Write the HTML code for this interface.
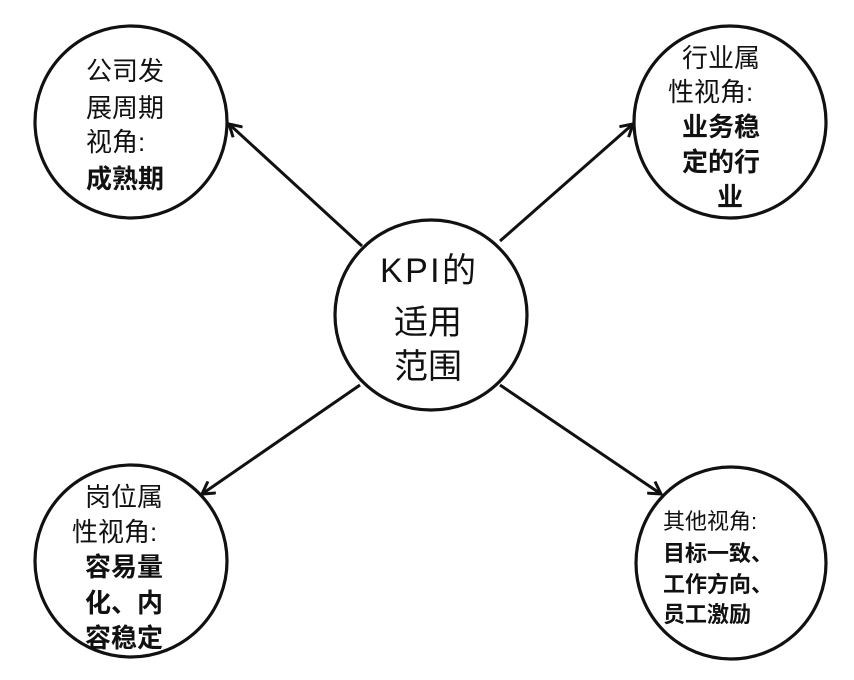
<!DOCTYPE html>
<html><head><meta charset="utf-8"><style>
html,body{margin:0;padding:0;background:#fff;}
svg{display:block;}
text{font-family:"Liberation Sans","Noto Sans CJK SC",sans-serif;fill:#111;}
.b{font-weight:bold;}
</style></head><body>
<svg width="854" height="680" viewBox="0 0 854 680" xmlns="http://www.w3.org/2000/svg">
<defs><marker id="a" markerWidth="16" markerHeight="16" refX="13" refY="8" orient="auto" markerUnits="userSpaceOnUse">
<path d="M1,1 L13,8 L1,15" fill="none" stroke="#111" stroke-width="3"/></marker></defs>
<g fill="none" stroke="#111" stroke-width="3.2">
<ellipse cx="131" cy="122" rx="96" ry="96"/>
<ellipse cx="730" cy="122" rx="96" ry="96"/>
<ellipse cx="431" cy="315" rx="96" ry="95"/>
<ellipse cx="131" cy="561" rx="96" ry="96"/>
<ellipse cx="731" cy="563" rx="95" ry="96"/>
</g>
<g stroke="#111" stroke-width="3" marker-end="url(#a)">
<line x1="362" y1="246" x2="229" y2="124"/>
<line x1="500" y1="241" x2="633" y2="124"/>
<line x1="360" y1="385" x2="202" y2="494"/>
<line x1="500" y1="385" x2="661" y2="494"/>
</g>
<g font-size="26">
<text x="86" y="80">公司发</text>
<text x="86" y="117">展周期</text>
<text x="86" y="151">视角:</text>
<text x="86" y="188" class="b">成熟期</text>
<text x="682" y="67">行业属</text>
<text x="668" y="101">性视角:</text>
<text x="682" y="136" class="b">业务稳</text>
<text x="682" y="171" class="b">定的行</text>
<text x="717" y="206" class="b">业</text>
<text x="85" y="506">岗位属</text>
<text x="72" y="541">性视角:</text>
<text x="85" y="576" class="b">容易量</text>
<text x="85" y="612" class="b">化、内</text>
<text x="85" y="647" class="b">容稳定</text>
</g>
<g font-size="22">
<text x="663" y="529">其他视角:</text>
<text x="663" y="561" class="b">目标一致、</text>
<text x="663" y="592" class="b">工作方向、</text>
<text x="663" y="622" class="b">员工激励</text>
</g>
<g font-size="34">
<text x="380" y="282" textLength="96">KPI的</text>
<text x="394" y="334">适用</text>
<text x="394" y="378">范围</text>
</g>
</svg>
</body></html>
